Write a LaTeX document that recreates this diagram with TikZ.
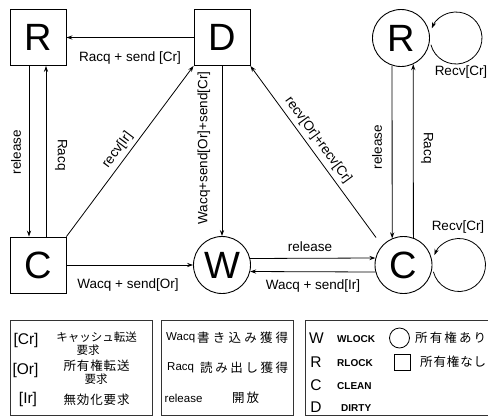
\documentclass[tikz,border=0pt]{standalone}
\usepackage{fontspec}
\setmainfont{Liberation Sans}
\newfontfamily\jp{Noto Sans CJK JP}
\usetikzlibrary{arrows.meta}

% spread a run of CJK characters over a fixed width
\newcommand\jspread[2]{\hbox to #1{#2}}

\tikzset{
  state/.style={draw, line width=0.9pt, inner sep=0pt, font=\fontsize{38}{38}\selectfont},
  sqstate/.style={state, rectangle, minimum size=56pt},
  cirstate/.style={state, circle, minimum size=57pt},
  arr/.style={line width=0.8pt, -{Stealth[length=6pt,width=4.2pt]}},
  lbl/.style={inner sep=0pt, font=\fontsize{13.5}{15}\selectfont},
  legbox/.style={line width=0.55pt, black!80},
  ltag/.style={inner sep=0pt, font=\fontsize{15.5}{17}\selectfont},
  ltxt/.style={inner sep=0pt, font=\fontsize{11.5}{13}\selectfont},
  lsmall/.style={inner sep=0pt, font=\bfseries\fontsize{10}{12}\selectfont},
  jtxt/.style={inner sep=0pt, font=\jp\fontsize{12.5}{14}\selectfont},
  jkana/.style={inner sep=0pt, font=\jp\fontsize{11.5}{13}\selectfont},
}

\begin{document}
\begin{tikzpicture}[x=1pt, y=1pt]
\useasboundingbox (0,0) rectangle (488,-416);

% ---- states without ownership (squares)
\node[sqstate] (Rs) at (38,-37.5) {R};
\node[sqstate] (Ds) at (222,-37.5) {D};
\node[sqstate] (Cs) at (38,-265) {C};

% ---- states with ownership (circles)
\node[cirstate] (W)  at (222,-265) {W};
\node[cirstate] (Rc) at (401,-38) {R};
\node[cirstate] (Cc) at (403.5,-265) {C};

% ---- left part
\draw[arr] (Ds.west) -- (Rs.east);
\node[lbl] (l1) at (130,-58) {Racq + send [Cr]};

\draw[arr] ([xshift=-9pt]Rs.south) -- ([xshift=-9pt]Cs.north);
\draw[arr] ([xshift=8pt]Cs.north) -- ([xshift=8pt]Rs.south);
\node[lbl, rotate=90] (l2) at (16,-152) {release};
\node[lbl, rotate=-90] (l3) at (61,-155) {Racq};

\draw[arr] (Cs.north east) -- node[lbl, sloped, above=4pt, pos=0.47] (l4) {recv[Ir]} (Ds.south west);

\draw[arr] (Ds.south) -- (W.north);
\node[lbl, rotate=90] (l5) at (204,-148) {Wacq+send[Or]+send[Cr]};

\draw[arr] (Cs.east) -- (W.west);
\node[lbl] (l6) at (128,-285) {Wacq + send[Or]};

% ---- between W and the owned clean state
\draw[arr] (W.13.2) -- (Cc.166.8);
\node[lbl] (l7) at (310,-247) {release};
\draw[arr] (Cc.-166.8) -- (W.-13.2);
\node[lbl] (l8) at (313,-286) {Wacq + send[Ir]};

\coordinate (dfrom) at ([shift={(-7,7)}]Cc.135);
\draw[arr] (dfrom) -- node[lbl, sloped, above=4pt, pos=0.53] (l9) {recv[Or]+recv[Cr]} (Ds.south east);

% ---- right part
\draw[arr] (Rc.-108.4) -- (Cc.113.8);
\draw[arr] (Cc.70.5) -- (Rc.-65.1);
\node[lbl, rotate=90] (l10) at (377,-147) {release};
\node[lbl, rotate=-90] (l11) at (427,-148) {Racq};

% self loops
\coordinate (RloopC) at (456,-38);
\draw[arr] ([shift={(195:26pt)}]RloopC) arc[start angle=195, end angle=518, radius=26pt];
\node[lbl] (l12) at (461,-72) {Recv[Cr]};

\coordinate (CloopC) at (459,-265);
\draw[arr] ([shift={(195:26.5pt)}]CloopC) arc[start angle=195, end angle=518, radius=26.5pt];
\node[lbl] (l13) at (458,-227) {Recv[Cr]};

% ---- legend boxes
\draw[legbox] (10,-320.5) rectangle (152.5,-415.5);
\draw[legbox] (161.5,-320.5) rectangle (293,-415.5);
\draw[legbox] (305.5,-320.5) rectangle (492,-415.5);

% messages
\node[ltag] (kcr) at (26,-340) {[Cr]};
\node[jkana] (kcr1) at (96.5,-337) {キャッシュ転送};
\node[jkana] (kcr2) at (88,-350.5) {要求};
\node[ltag] (kor) at (25.5,-370) {[Or]};
\node[jtxt] (kor1) at (96.5,-366) {\jspread{66pt}{所\hfil 有\hfil 権\hfil 転\hfil 送}};
\node[jkana] (kor2) at (96,-379.5) {要求};
\node[ltag] (kir) at (28,-399) {[Ir]};
\node[jtxt] (kir1) at (96.5,-399.5) {\jspread{66pt}{無\hfil 効\hfil 化\hfil 要\hfil 求}};

% operations
\node[ltxt, anchor=west] (owa) at (166,-338) {Wacq};
\node[jtxt, anchor=west] (owa1) at (197,-338) {\jspread{91pt}{書\hfil き\hfil 込\hfil み\hfil 獲\hfil 得}};
\node[ltxt, anchor=west] (ora) at (167,-368) {Racq};
\node[jtxt, anchor=west] (ora1) at (200,-368) {\jspread{88pt}{読\hfil み\hfil 出\hfil し\hfil 獲\hfil 得}};
\node[ltxt, anchor=west] (orl) at (164.5,-398.5) {release};
\node[jtxt, anchor=west] (orl1) at (232,-398) {\jspread{27pt}{開\hfil 放}};

% states
\node[ltag] (sw) at (316.5,-338) {W};
\node[ltag] (sr) at (316,-362) {R};
\node[ltag] (sc) at (316,-385.5) {C};
\node[ltag] (sd) at (316,-407.5) {D};
\node[lsmall, anchor=west] (swl) at (337,-339) {WLOCK};
\node[lsmall, anchor=west] (srl) at (337,-363) {RLOCK};
\node[lsmall, anchor=west] (scl) at (337,-386.5) {CLEAN};
\node[lsmall, anchor=west] (sdl) at (341,-408.5) {DIRTY};

% ownership marks
\node[draw, circle, line width=0.8pt, minimum size=20pt, inner sep=0pt] (own) at (399.5,-338) {};
\node[jtxt, anchor=west] (own1) at (415,-338) {\jspread{71pt}{所\hfil 有\hfil 権\hfil あ\hfil り}};
\node[draw, rectangle, line width=0.8pt, minimum size=16pt, inner sep=0pt] (nown) at (402.5,-362) {};
\node[jtxt, anchor=west] (nown1) at (420,-362) {\jspread{66pt}{所\hfil 有\hfil 権\hfil な\hfil し}};
\end{tikzpicture}
\end{document}
